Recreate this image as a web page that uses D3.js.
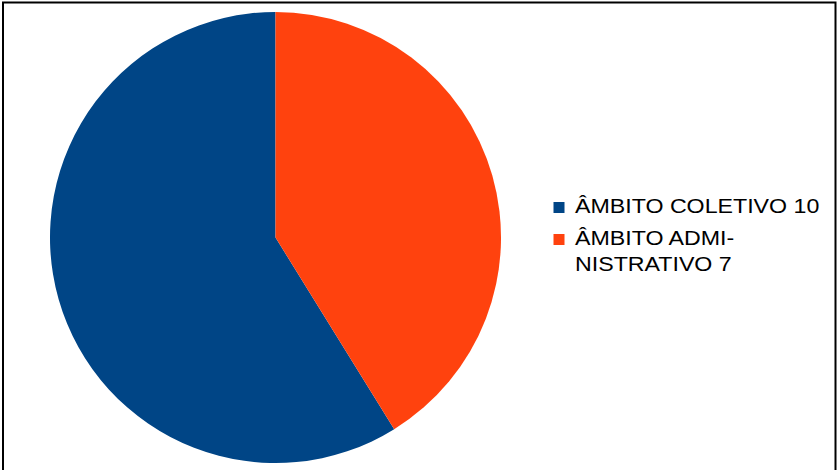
<!DOCTYPE html>
<html>
<head>
<meta charset="utf-8">
<script src="https://cdn.jsdelivr.net/npm/d3@7"></script>
<style>
  html, body { margin: 0; padding: 0; background: #fff; }
  svg { display: block; }
</style>
</head>
<body>
<svg id="chart" width="839" height="470"></svg>
<script>
// Categories and counts
const categories = ["ÂMBITO COLETIVO", "ÂMBITO ADMINISTRATIVO"];
const values = [10, 7];
// Legend lines (category with its count, wrapped as in the legend)
const legendLines = [["ÂMBITO COLETIVO 10"], ["ÂMBITO ADMI-", "NISTRATIVO 7"]];
const colors = ["#004586", "#ff420e"];

const svg = d3.select("#chart");

// Frame
svg.append("rect")
  .attr("x", 3).attr("y", 2.5)
  .attr("width", 832.5).attr("height", 480)
  .attr("fill", "#fff")
  .attr("stroke", "#000")
  .attr("stroke-width", 2);

// Pie, first slice drawn counterclockwise from 12 o'clock
const cx = 275.5, cy = 237.5, r = 225.5;
const pie = d3.pie().sort(null).startAngle(0).endAngle(-2 * Math.PI);
const arc = d3.arc().innerRadius(0).outerRadius(r);

const color = d3.scaleOrdinal().domain(categories).range(colors);

svg.append("g")
  .attr("transform", `translate(${cx},${cy})`)
  .selectAll("path")
  .data(pie(values))
  .join("path")
  .attr("d", arc)
  .attr("fill", (d, i) => color(categories[i]));

// Legend
const legend = svg.append("g")
  .attr("font-family", "'Liberation Sans', Arial, sans-serif")
  .attr("font-size", 20).attr("fill", "#000");

const itemY = [213, 245];
const textX = 575;
categories.forEach((c, i) => {
  legend.append("rect")
    .attr("x", 553.5).attr("y", itemY[i] - 11)
    .attr("width", 11).attr("height", 11)
    .attr("fill", color(c));
  const t = legend.append("text")
    .attr("transform", `translate(${textX},${itemY[i]}) scale(1.16,1)`);
  legendLines[i].forEach((line, j) => {
    t.append("tspan").attr("x", 0).attr("y", j * 26).text(line);
  });
});
</script>
</body>
</html>
